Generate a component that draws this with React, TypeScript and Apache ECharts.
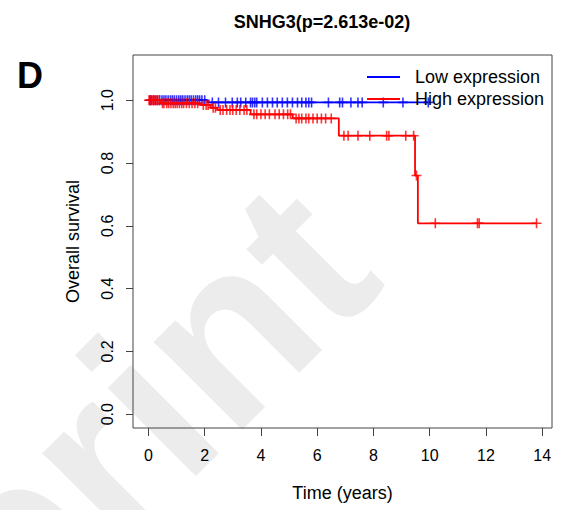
import React, { useEffect, useRef } from 'react';
import * as echarts from 'echarts';

const titleText = 'SNHG3(p=2.613e-02)';
const panelLabel = 'D';
const xAxisTitle = 'Time (years)';
const yAxisTitle = 'Overall survival';
const xTicks = [0, 2, 4, 6, 8, 10, 12, 14];
const yTicks = [0, 0.2, 0.4, 0.6, 0.8, 1.0];
const groupNames = ['Low expression', 'High expression'];

// Low expression group: Kaplan-Meier steps
const lowEventTimes = [0, 2.1];
const lowSurvival = [1.0, 0.993];
const lowEndTime = 9.95;
const lowCensorTimes = [
  0.05, 0.1, 0.18, 0.25, 0.32, 0.4, 0.48, 0.55, 0.62, 0.7, 0.78, 0.85, 0.92, 1.0,
  1.08, 1.15, 1.22, 1.3, 1.38, 1.45, 1.52, 1.6, 1.68, 1.75, 1.82, 1.9, 2.0,
  2.27, 2.49, 2.74, 2.98, 3.16, 3.28, 3.46, 3.63, 3.7, 3.78, 3.85, 4.05, 4.23,
  4.41, 4.58, 4.76, 4.94, 5.12, 5.3, 5.45, 5.6, 5.7, 5.8, 6.4, 6.8, 6.9, 7.2,
  7.45, 7.6, 8.35, 9.05, 9.95,
];

// High expression group: Kaplan-Meier steps
const highEventTimes = [0, 0.43, 1.85, 2.2, 2.45, 3.63, 5.13, 6.77, 9.48, 9.58];
const highSurvival = [1.0, 0.99, 0.985, 0.976, 0.969, 0.955, 0.942, 0.887, 0.76, 0.608];
const highEndTime = 13.8;
const highCensorTimes = [
  0.02, 0.08, 0.15, 0.22, 0.3, 0.38,
  0.5, 0.55, 0.65, 0.72, 0.8, 0.88, 0.95, 1.02, 1.1, 1.18, 1.25, 1.35, 1.45, 1.55, 1.65, 1.75,
  1.95, 2.05, 2.12,
  2.3, 2.38,
  2.55, 2.65, 2.78, 2.9, 3.0, 3.12, 3.25, 3.4, 3.5,
  3.75, 3.85, 4.0, 4.15, 4.3, 4.5, 4.65, 4.8, 4.95, 5.05,
  5.25, 5.35, 5.45, 5.6, 5.7, 5.85, 6.0, 6.15, 6.3, 6.5,
  6.95, 7.1, 7.45, 7.87, 8.47, 8.55, 9.15, 9.43,
  9.53,
  10.2, 11.7, 11.76, 13.8,
];

const watermarkText = 'Preprint';

function stepData(times: number[], surv: number[], end: number) {
  const d = times.map((t, i) => [t, surv[i]]);
  d.push([end, surv[surv.length - 1]]);
  return d;
}

function survAt(times: number[], surv: number[], t: number) {
  let s = surv[0];
  for (let i = 0; i < times.length; i++) {
    if (times[i] <= t) s = surv[i];
  }
  return s;
}

const PLUS = 'path://M4.2,0H5.8V4.2H10V5.8H5.8V10H4.2V5.8H0V4.2H4.2Z';
const BLUE = '#0000ff';
const RED = '#ff0000';
const AXIS = '#444444';
const FONT = '"Liberation Sans", Arial, Helvetica, sans-serif';

export default function App() {
  const ref = useRef<HTMLDivElement>(null);
  useEffect(() => {
    if (!ref.current) return;
    const chart = echarts.init(ref.current, undefined, { renderer: 'svg' });
    const lowLine = stepData(lowEventTimes, lowSurvival, lowEndTime);
    const highLine = stepData(highEventTimes, highSurvival, highEndTime);
    const lowCens = lowCensorTimes.map((t) => [t, survAt(lowEventTimes, lowSurvival, t)]);
    const highCens = highCensorTimes.map((t) => [t, survAt(highEventTimes, highSurvival, t)]);

    chart.setOption({
      animation: false,
      backgroundColor: '#ffffff',
      textStyle: { fontFamily: FONT },
      title: {
        text: titleText,
        left: 317,
        top: 8,
        textAlign: 'center',
        textStyle: { fontSize: 18, fontWeight: 'bold', color: '#000', fontFamily: FONT },
      },
      graphic: [
        {
          type: 'text',
          x: 330,
          y: 226,
          rotation: Math.PI / 4,
          z: -10,
          silent: true,
          style: {
            text: watermarkText,
            fontSize: 236,
            fontWeight: 'bold',
            fontFamily: FONT,
            fill: '#ececec',
            align: 'right',
            verticalAlign: 'middle',
          },
        },
        {
          type: 'text',
          x: 17,
          y: 75,
          style: {
            text: panelLabel,
            fontSize: 36,
            fontWeight: 'bold',
            fontFamily: FONT,
            fill: '#000',
            align: 'left',
            verticalAlign: 'middle',
          },
        },
      ],
      legend: {
        data: groupNames,
        orient: 'vertical',
        left: 367,
        top: 68,
        padding: 0,
        itemGap: 4,
        itemWidth: 33,
        itemHeight: 2,
        icon: 'rect',
        textStyle: { fontSize: 18, color: '#000', padding: [0, 0, 0, 10], fontFamily: FONT },
      },
      grid: {
        left: 133,
        right: 13,
        top: 55,
        bottom: 82,
        show: true,
        borderColor: AXIS,
        borderWidth: 1,
        backgroundColor: 'transparent',
      },
      xAxis: {
        type: 'value',
        min: -0.55,
        max: 14.35,
        name: xAxisTitle,
        nameLocation: 'middle',
        nameGap: 56,
        nameTextStyle: { fontSize: 18, color: '#000', fontFamily: FONT },
        axisLine: { show: false, onZero: false },
        splitLine: { show: false },
        axisTick: { show: true, inside: false, length: 8, customValues: xTicks, lineStyle: { color: AXIS } },
        axisLabel: { customValues: xTicks, fontSize: 16, color: '#000', margin: 19, fontFamily: FONT },
      },
      yAxis: {
        type: 'value',
        min: -0.044,
        max: 1.144,
        name: yAxisTitle,
        nameLocation: 'middle',
        nameGap: 51,
        nameRotate: 90,
        nameTextStyle: { fontSize: 18, color: '#000', fontFamily: FONT },
        axisLine: { show: false, onZero: false },
        splitLine: { show: false },
        axisTick: { show: true, inside: false, length: 7, customValues: yTicks, lineStyle: { color: AXIS } },
        axisLabel: {
          customValues: yTicks,
          rotate: 90,
          fontSize: 16,
          color: '#000',
          margin: 18,
          fontFamily: FONT,
          formatter: (v: number) => v.toFixed(1),
        },
      },
      series: [
        {
          name: groupNames[0],
          type: 'line',
          step: 'end',
          data: lowLine,
          showSymbol: false,
          color: BLUE,
          lineStyle: { color: BLUE, width: 1.8 },
          z: 3,
        },
        {
          name: 'Low censored',
          type: 'scatter',
          data: lowCens,
          symbol: PLUS,
          symbolSize: 10,
          itemStyle: { color: BLUE },
          z: 3,
        },
        {
          name: groupNames[1],
          type: 'line',
          step: 'end',
          data: highLine,
          showSymbol: false,
          color: RED,
          lineStyle: { color: RED, width: 1.8 },
          z: 4,
        },
        {
          name: 'High censored',
          type: 'scatter',
          data: highCens,
          symbol: PLUS,
          symbolSize: 10,
          itemStyle: { color: RED },
          z: 4,
        },
      ],
    });
    return () => chart.dispose();
  }, []);
  return (
    <div
      ref={ref}
      style={{ position: 'absolute', left: 0, top: 0, width: 565, height: 510 }}
    />
  );
}
